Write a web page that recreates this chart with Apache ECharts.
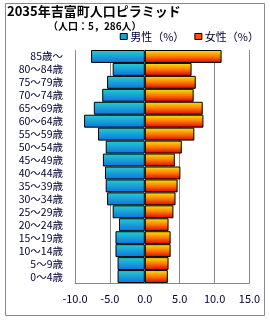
<!DOCTYPE html>
<html><head><meta charset="utf-8">
<script src="https://cdn.jsdelivr.net/npm/echarts@6/dist/echarts.min.js"></script>
<style>html,body{margin:0;padding:0;background:#fff}#c{width:270px;height:320px}</style>
</head><body><div id="c"></div>
<script>
const categories = ['0～4歳','5～9歳','10～14歳','15～19歳','20～24歳','25～29歳','30～34歳','35～39歳','40～44歳','45～49歳','50～54歳','55～59歳','60～64歳','65～69歳','70～74歳','75～79歳','80～84歳','85歳～'];
const male = [3.9,3.9,4.2,4.2,3.7,4.6,5.4,5.6,5.7,6.0,5.6,6.7,8.7,7.3,6.1,5.4,4.6,7.7];
const female = [3.3,3.4,3.7,3.7,3.4,4.1,4.4,4.7,5.1,4.3,5.3,7.1,8.4,8.3,7.0,7.3,6.7,11.0];
const xTicks = [-10, 15, 5];
const titleText = '2035年吉富町人口ピラミッド';
const subText = '（人口：5，286人）';
const seriesNames = ['男性（%）','女性（%）'];

const font = '"Noto Sans CJK JP", "Noto Sans", sans-serif';
const chart = echarts.init(document.getElementById('c'));
const maleGrad = new echarts.graphic.LinearGradient(0,0,0,1,[{offset:0,color:'#22d0d0'},{offset:1,color:'#1070e0'}]);
const femaleGrad = new echarts.graphic.LinearGradient(0,0,0,1,[{offset:0,color:'#ffe800'},{offset:0.5,color:'#ff7a00'},{offset:1,color:'#d80000'}]);
chart.setOption({
  animation:false,
  graphic:[
    {type:'rect',shape:{x:5.5,y:3.5,width:259,height:312},style:{fill:'none',stroke:'#888',lineWidth:1},z:-1},
    {type:'text',left:7,top:5,style:{text:titleText,font:'bold 13px '+font,fill:'#000'}},
    {type:'text',left:48,top:21,style:{text:subText,font:'bold 10px '+font,fill:'#000'}}
  ],
  legend:{
    top:26,right:6,itemWidth:7,itemHeight:6,itemGap:10,icon:'rect',
    textStyle:{fontFamily:font,fontSize:11,color:'#000033',padding:[0,0,0,-2]},
    data:[
      {name:seriesNames[0],itemStyle:{color:'#1aa0e0',borderColor:'#000',borderWidth:1}},
      {name:seriesNames[1],itemStyle:{color:'#ff5000',borderColor:'#000',borderWidth:1}}
    ]
  },
  grid:{left:75,right:20.5,top:50,bottom:37},
  xAxis:{
    type:'value',min:xTicks[0],max:xTicks[1],interval:xTicks[2],
    axisLine:{show:true,lineStyle:{color:'#888'}},
    axisTick:{show:false},
    splitLine:{show:true,lineStyle:{color:'#888',width:1}},
    axisLabel:{formatter:v=>v.toFixed(1),fontFamily:font,fontSize:11,color:'#000033',margin:10}
  },
  yAxis:{
    type:'category',data:categories,
    axisLine:{show:true,lineStyle:{color:'#888'}},
    axisTick:{show:false},
    axisLabel:{interval:0,fontFamily:font,fontSize:10.5,lineHeight:12,color:'#000033',margin:12}
  },
  series:[
    {name:seriesNames[0],type:'bar',data:male.map(v=>-v),barGap:'-100%',barCategoryGap:'0%',
     itemStyle:{color:maleGrad,borderColor:'#000',borderWidth:1}},
    {name:seriesNames[1],type:'bar',data:female,barGap:'-100%',barCategoryGap:'0%',
     itemStyle:{color:femaleGrad,borderColor:'#000',borderWidth:1}}
  ]
});
</script></body></html>
